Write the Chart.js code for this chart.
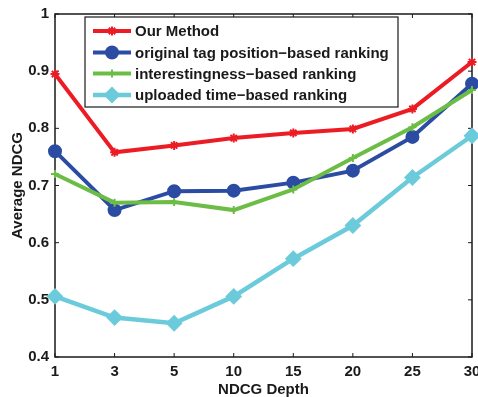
<!DOCTYPE html>
<html>
<head>
<meta charset="utf-8">
<script src="https://cdn.jsdelivr.net/npm/chart.js@4.4.0/dist/chart.umd.min.js"></script>
<style>
html, body { margin: 0; padding: 0; background: #fff; }
</style>
</head>
<body>
<canvas id="c" width="478" height="397"></canvas>
<script>
// Data
const depths = ['1', '3', '5', '10', '15', '20', '25', '30'];
const ourMethod = [0.895, 0.758, 0.770, 0.783, 0.792, 0.799, 0.834, 0.916];
const tagPosition = [0.760, 0.657, 0.690, 0.691, 0.705, 0.726, 0.785, 0.878];
const interestingness = [0.720, 0.670, 0.671, 0.657, 0.693, 0.748, 0.802, 0.867];
const uploadedTime = [0.506, 0.469, 0.459, 0.506, 0.572, 0.630, 0.714, 0.787];
const yTicks = [0.4, 0.5, 0.6, 0.7, 0.8, 0.9, 1];

const FONT = '"Liberation Sans", Arial, sans-serif';
const AXIS = '#1a1a1a';

const series = [
    { label: 'Our Method', data: ourMethod, color: '#ec1c24', style: 'star', radius: 4.5, lw: 4, order: 4 },
    { label: 'original tag position\u2212based ranking', data: tagPosition, color: '#2b4ca2', style: 'circle', radius: 6, lw: 4, order: 3 },
    { label: 'interestingness\u2212based ranking', data: interestingness, color: '#6cbd45', style: 'cross', radius: 4, lw: 4, order: 2 },
    { label: 'uploaded time\u2212based ranking', data: uploadedTime, color: '#6ccbdb', style: 'rectRot', radius: 7, lw: 4.5, order: 1 }
];

// no auto padding from tick labels
function noPad(scale) {
    scale.paddingLeft = 0;
    scale.paddingRight = 0;
    scale.paddingTop = 0;
    scale.paddingBottom = 0;
}

// box + inward ticks, MATLAB style
const boxPlugin = {
    id: 'box',
    beforeDatasetsDraw(chart) {
        const ctx = chart.ctx;
        const a = chart.chartArea;
        const xs = chart.scales.x, ys = chart.scales.y;
        ctx.save();
        ctx.strokeStyle = AXIS;
        ctx.lineWidth = 1.5;
        ctx.strokeRect(a.left, a.top, a.right - a.left, a.bottom - a.top);
        ctx.lineWidth = 1;
        const t = 4;
        ctx.beginPath();
        depths.forEach((d, i) => {
            const px = xs.getPixelForValue(i);
            ctx.moveTo(px, a.bottom); ctx.lineTo(px, a.bottom - t);
            ctx.moveTo(px, a.top); ctx.lineTo(px, a.top + t);
        });
        yTicks.forEach(v => {
            const py = ys.getPixelForValue(v);
            ctx.moveTo(a.left, py); ctx.lineTo(a.left + t, py);
            ctx.moveTo(a.right, py); ctx.lineTo(a.right - t, py);
        });
        ctx.stroke();
        ctx.restore();
    }
};

// legend box inside the plot
const legendPlugin = {
    id: 'boxLegend',
    afterDatasetsDraw(chart) {
        const ctx = chart.ctx;
        const bx = 85, by = 17, bw = 313, bh = 90;
        ctx.save();
        ctx.fillStyle = '#fff';
        ctx.fillRect(bx, by, bw, bh);
        ctx.strokeStyle = AXIS;
        ctx.lineWidth = 1.2;
        ctx.strokeRect(bx, by, bw, bh);
        const rowY = [31, 52.5, 73.5, 95];
        series.forEach((s, i) => {
            const y = rowY[i];
            ctx.strokeStyle = s.color;
            ctx.fillStyle = s.color;
            ctx.lineWidth = s.lw;
            ctx.beginPath();
            ctx.moveTo(93, y); ctx.lineTo(131, y);
            ctx.stroke();
            ctx.lineWidth = 2;
            Chart.helpers.drawPoint(ctx, { pointStyle: s.style, radius: s.radius, borderWidth: 2, rotation: 0 }, 112, y);
            ctx.fillStyle = '#1a1a1a';
            ctx.font = 'bold 15px ' + FONT;
            ctx.textBaseline = 'middle';
            ctx.textAlign = 'left';
            ctx.fillText(s.label, 135, y + 1);
        });
        ctx.restore();
    }
};

new Chart(document.getElementById('c'), {
    type: 'line',
    data: {
        labels: depths,
        datasets: series.map(s => ({
            label: s.label,
            data: s.data,
            order: s.order,
            borderColor: s.color,
            backgroundColor: s.color,
            borderWidth: s.lw,
            pointStyle: s.style,
            pointRadius: s.radius,
            pointBorderWidth: 2,
            pointBorderColor: s.color,
            pointBackgroundColor: s.color,
            tension: 0,
            clip: false
        }))
    },
    options: {
        responsive: false,
        animation: false,
        events: [],
        layout: { autoPadding: false, padding: { top: 14, right: 6, left: 0, bottom: 0 } },
        plugins: { legend: { display: false }, tooltip: { enabled: false } },
        scales: {
            x: {
                grid: { display: false, drawTicks: false },
                border: { display: false },
                offset: false,
                ticks: { color: '#1a1a1a', font: { family: FONT, size: 15, weight: 'bold' }, padding: 6, maxRotation: 0, autoSkip: false },
                title: { display: true, text: 'NDCG Depth', color: '#1a1a1a', font: { family: FONT, size: 15, weight: 'bold' }, padding: { top: 0, bottom: -2 } },
                afterFit(scale) { scale.height = 40; noPad(scale); }
            },
            y: {
                min: 0.4,
                max: 1,
                grid: { display: false, drawTicks: false },
                border: { display: false },
                afterBuildTicks(scale) { scale.ticks = yTicks.map(v => ({ value: v })); },
                ticks: {
                    color: '#1a1a1a',
                    font: { family: FONT, size: 15, weight: 'bold' },
                    padding: 6,
                    callback: v => (v === 1 ? '1' : v.toFixed(1))
                },
                title: { display: true, text: 'Average NDCG', color: '#1a1a1a', font: { family: FONT, size: 15, weight: 'bold' }, padding: { top: 9, bottom: 0 } },
                afterFit(scale) { scale.width = 55; noPad(scale); }
            }
        }
    },
    plugins: [boxPlugin, legendPlugin]
});
</script>
</body>
</html>
